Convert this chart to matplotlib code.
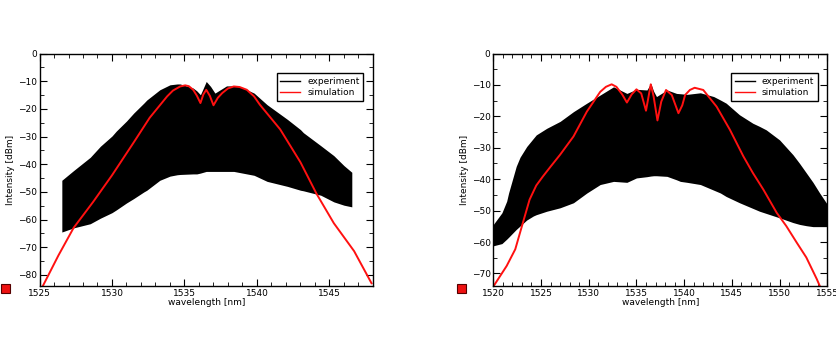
import numpy as np
import matplotlib.pyplot as plt
from matplotlib.lines import Line2D
from matplotlib.ticker import MultipleLocator
from matplotlib.patches import Rectangle

# ---- left panel: experiment envelope (comb drawn as filled band) ----
wl_a = [1526.54, 1527.35, 1528.5, 1529.2, 1530.0, 1530.3, 1531.0, 1531.5, 1532.2, 1532.4,
        1533.3, 1534.0, 1534.5, 1534.7, 1535.6, 1535.85, 1536.1, 1536.5, 1536.8, 1537.1,
        1537.9, 1538.4, 1538.8, 1539.8, 1540.7, 1542.1, 1543.0, 1543.2, 1544.4, 1545.3,
        1546.0, 1546.54]
up_a = [-45.8, -42.3, -37.5, -33.5, -29.8, -28.0, -24.4, -21.5, -17.9, -16.8,
        -13.1, -11.3, -11.0, -11.0, -12.5, -13.5, -14.9, -10.1, -11.9, -14.3,
        -11.7, -11.7, -11.9, -14.3, -18.5, -23.8, -27.5, -28.6, -33.3, -36.9,
        -40.5, -42.9]
lo_a = [-64.5, -63.0, -61.5, -59.5, -57.5, -56.5, -54.0, -52.4, -50.0, -49.4,
        -45.8, -44.3, -43.8, -43.7, -43.5, -43.5, -43.2, -42.6, -42.6, -42.6,
        -42.6, -42.6, -43.0, -44.0, -46.2, -48.0, -49.4, -49.6, -51.2, -53.6,
        -54.8, -55.4]

# ---- left panel: simulation ----
sim_wl_a = [1525.23, 1526.3, 1527.35, 1528.7, 1530.0, 1531.5, 1532.6, 1533.8, 1534.2, 1534.7,
            1535.05, 1535.3, 1535.6, 1535.85, 1536.1, 1536.3, 1536.5, 1536.75, 1537.0, 1537.3,
            1537.6, 1538.0, 1538.4, 1538.8, 1539.3, 1539.8, 1540.2, 1541.6, 1543.0, 1544.1,
            1545.3, 1546.7, 1547.9]
sim_a = [-84.0, -73.0, -63.0, -53.6, -44.0, -32.1, -23.2, -15.5, -13.4, -11.9,
         -11.5, -11.8, -13.1, -15.2, -17.9, -14.8, -13.1, -15.3, -18.7, -16.0,
         -14.3, -12.6, -11.9, -12.1, -13.1, -15.5, -18.5, -27.4, -39.3, -50.6,
         -61.3, -71.4, -83.0]

# ---- right panel: experiment envelope ----
wl_b = [1520.0, 1520.9, 1521.4, 1521.6, 1522.4, 1522.8, 1523.5, 1524.2, 1524.5, 1525.6,
        1527.0, 1528.4, 1529.8, 1531.2, 1532.6, 1534.0, 1535.0, 1536.1, 1536.5, 1536.8,
        1537.1, 1538.2, 1539.2, 1539.6, 1540.3, 1541.7, 1543.1, 1543.8, 1544.4, 1545.8,
        1547.2, 1547.9, 1548.6, 1550.0, 1551.4, 1552.1, 1552.8, 1553.5, 1554.2, 1555.0]
up_b = [-54.4, -50.7, -47.0, -44.4, -35.9, -33.0, -29.6, -27.0, -25.9, -23.8,
        -21.6, -18.5, -15.8, -13.2, -10.6, -12.7, -11.4, -11.6, -9.5, -12.0,
        -13.7, -11.6, -12.7, -12.8, -13.0, -12.5, -13.7, -14.8, -15.8, -19.5,
        -22.2, -23.2, -24.3, -27.5, -32.2, -35.0, -38.0, -41.0, -44.4, -48.0]
lo_b = [-61.2, -60.5, -59.1, -58.5, -56.0, -54.9, -53.0, -51.7, -51.3, -50.2,
        -49.1, -47.5, -44.4, -41.7, -40.7, -41.0, -39.6, -39.2, -39.0, -38.9,
        -38.9, -39.1, -40.2, -40.7, -41.0, -41.7, -43.5, -44.4, -45.5, -47.5,
        -49.3, -50.2, -50.9, -52.3, -53.8, -54.4, -54.8, -55.1, -55.1, -55.1]

# ---- right panel: simulation ----
sim_wl_b = [1520.1, 1521.4, 1522.3, 1523.0, 1523.8, 1524.5, 1525.2, 1526.0, 1527.0, 1528.4,
            1529.8, 1531.2, 1531.8, 1532.4, 1532.9, 1533.5, 1534.0, 1534.5, 1535.0, 1535.5,
            1536.0, 1536.5, 1536.8, 1537.2, 1537.6, 1538.1, 1538.7, 1539.4, 1539.8, 1540.1,
            1540.6, 1541.1, 1542.0, 1543.4, 1544.8, 1546.2, 1547.2, 1548.3, 1549.7, 1550.7,
            1551.8, 1552.8, 1553.9, 1554.2]
sim_b = [-73.7, -67.6, -62.3, -54.9, -46.5, -42.0, -39.1, -36.0, -32.2, -26.4,
         -18.5, -12.2, -10.6, -9.8, -10.6, -13.0, -15.6, -13.0, -11.4, -12.7,
         -18.2, -9.8, -13.7, -21.3, -15.3, -11.6, -13.2, -19.0, -16.5, -13.2,
         -11.6, -10.9, -11.6, -16.9, -24.3, -32.7, -38.0, -43.3, -50.7, -54.9,
         -60.2, -64.9, -71.8, -73.9]

fs = 6.5
plt.rcParams['font.family'] = ['DejaVu Sans']

fig = plt.figure(figsize=(8.37, 3.58), dpi=100)
ax1 = fig.add_axes([0.0472, 0.2011, 0.3984, 0.6494])
ax2 = fig.add_axes([0.5894, 0.2011, 0.3990, 0.6494])


def panel(ax, wl, up, lo, swl, sim, xlim, ylim, ylabels):
    ax.fill_between(wl, lo, up, color='black', linewidth=0)
    ax.plot(swl, sim, color='#ff1010', linewidth=1.4)
    ax.set_xlim(*xlim)
    ax.set_ylim(*ylim)
    ax.xaxis.set_major_locator(MultipleLocator(5))
    ax.xaxis.set_minor_locator(MultipleLocator(1))
    ax.set_yticks(ylabels)
    ax.yaxis.set_minor_locator(MultipleLocator(5))
    ax.tick_params(which='both', direction='in', top=True, right=True, labelsize=fs, pad=2)
    ax.tick_params(which='major', length=5)
    ax.tick_params(which='minor', length=3)
    ax.set_xlabel('wavelength [nm]', fontsize=fs, labelpad=0)
    ax.set_ylabel('Intensity [dBm]', fontsize=fs, labelpad=2)
    handles = [Line2D([], [], color='black', lw=1), Line2D([], [], color='#ff1010', lw=1)]
    leg = ax.legend(handles, ['experiment', 'simulation'], loc='upper right', fontsize=fs,
                    fancybox=False, framealpha=1, edgecolor='black', handlelength=2.2,
                    borderpad=0.4, labelspacing=0.3, bbox_to_anchor=(0.985, 0.935))
    leg.get_frame().set_linewidth(1.0)
    for s in ax.spines.values():
        s.set_linewidth(1.0)


panel(ax1, wl_a, up_a, lo_a, sim_wl_a, sim_a, (1525, 1548), (-84, 0),
      [0, -10, -20, -30, -40, -50, -60, -70, -80])
panel(ax2, wl_b, up_b, lo_b, sim_wl_b, sim_b, (1520, 1555), (-74, 0),
      [0, -10, -20, -30, -40, -50, -60, -70])

# small red marker icons at the lower left of each panel
for x0 in (1 / 837, 457 / 837):
    fig.patches.append(Rectangle((x0, 1 - 293 / 358), 9 / 837, 9 / 358, transform=fig.transFigure,
                                 facecolor='#ee1111', edgecolor='#550000', linewidth=0.8))

fig.savefig('out.png', dpi=100)
